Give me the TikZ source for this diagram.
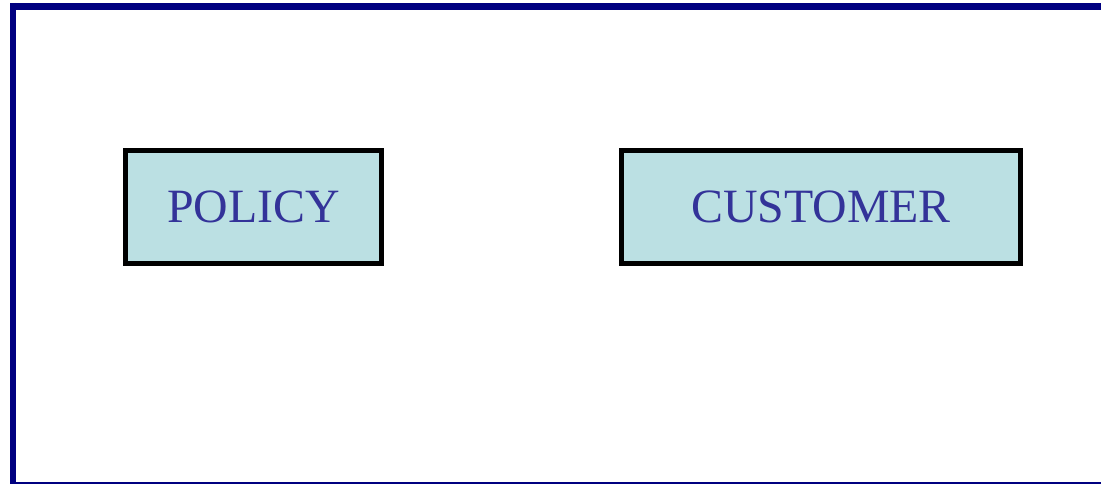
\documentclass[tikz,border=0pt]{standalone}
\usepackage{fontspec}
\setmainfont{Liberation Serif}
\usepackage{xcolor}
\usetikzlibrary{positioning}
\definecolor{framenavy}{HTML}{000080}
\definecolor{entityfill}{HTML}{BBE0E3}
\definecolor{entitytext}{HTML}{333399}

\begin{document}
\begin{tikzpicture}[
    x=1bp, y=1bp,
    every node/.style={font=\fontsize{48}{56}\selectfont},
    entity/.style={rectangle, draw=black, line width=5bp, fill=entityfill, text=entitytext, minimum height=113bp, inner sep=0pt},
    frameline/.style={draw=framenavy}
]
\useasboundingbox (0,0) rectangle (1101,485);
% Outer frame (right side runs off the page)
\begin{scope}
\clip (0,0) rectangle (1101,485);
\draw[frameline, line width=7bp] (1110,478.5) -- (10,478.5);
\draw[frameline, line width=6bp] (13,482) -- (13,1);
\draw[frameline, line width=2bp] (10,2) -- (1110,2);
\end{scope}
% Entities
\node[entity, minimum width=256bp] (policy) at (253.5,278) {POLICY};
\node[entity, minimum width=399bp, right=235bp of policy] (customer) {CUSTOMER};
\end{tikzpicture}
\end{document}
